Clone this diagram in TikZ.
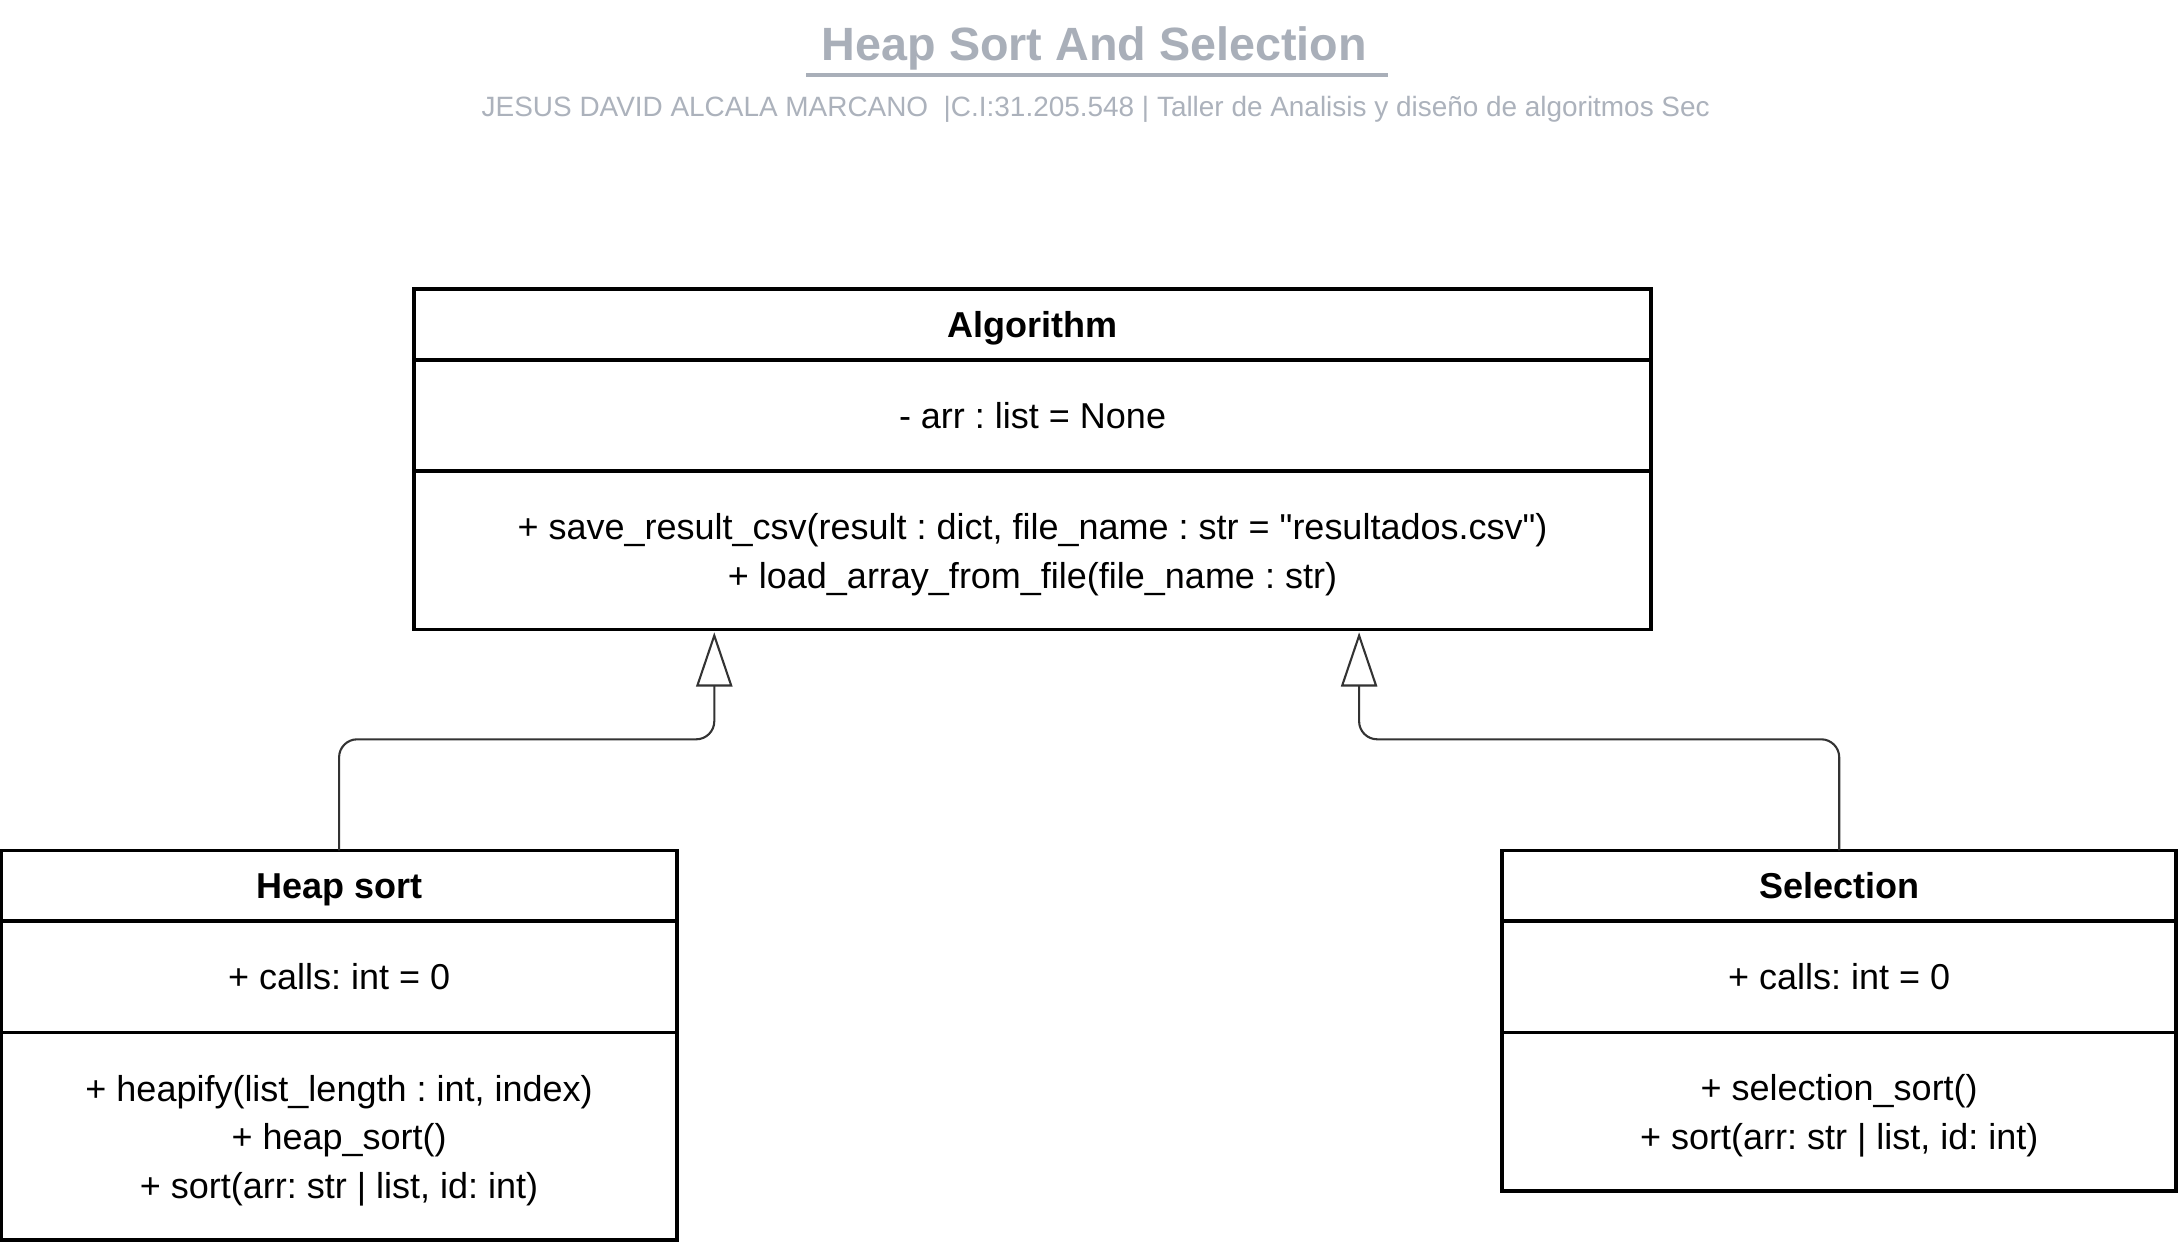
\documentclass[tikz,border=0pt]{standalone}
\usepackage{fontspec}
\setmainfont{Liberation Sans}[Ligatures=TeXOff]
\usetikzlibrary{arrows.meta}
\definecolor{titlegray}{RGB}{169,175,185}
\definecolor{subgray}{RGB}{172,178,188}
\definecolor{conngray}{RGB}{51,51,51}
\frenchspacing
\tikzset{
  part/.style={draw=black, line width=2.8pt, inner sep=0pt, outer sep=0pt, align=center,
    font=\fontsize{25.9}{35}\selectfont\frenchspacing, text height=24pt, text depth=5.4pt},
  hdr/.style={part, font=\fontsize{25.9}{35}\selectfont\bfseries},
  box/.style={draw=black, line width=2.8pt, inner sep=0pt, outer sep=0pt},
  mtext/.style={align=center, inner sep=0pt, font=\fontsize{25.9}{35}\selectfont\frenchspacing},
  conn/.style={draw=conngray, line width=1.5pt, rounded corners=13pt,
    -{Triangle[open, length=39pt, width=26pt]}},
}
\begin{document}
\begin{tikzpicture}[x=1pt, y=-1pt]
\fill[white] (0,0) rectangle (1568,894);
\useasboundingbox (0,0) rectangle (1568,894);

% title
\node[text=titlegray, font=\fontsize{33.6}{40}\selectfont\bfseries] (title) at (787.5,35) {Heap Sort And Selection};
\draw[titlegray, line width=2.5pt] (580,54) -- (999,54);
\node[text=subgray, font=\fontsize{20.1}{24}\selectfont\frenchspacing] (sub) at (788.5,79)
  {JESUS DAVID ALCALA MARCANO~~|C.I:31.205.548 | Taller de Analisis y diseño de algoritmos Sec};

% Algorithm
\node[hdr, minimum width=890pt, minimum height=51pt] (algH) at (743,233.5) {Algorithm};
\node[part, minimum width=890pt, minimum height=80pt] (algA) at (743,299) {- arr : list = None};
\node[box, minimum width=890pt, minimum height=114pt] (algM) at (743,396) {};
\node[mtext, yshift=-3pt] (algMt) at (algM.center)
  {+ save\_result\_csv(result : dict, file\_name : str = "resultados.csv")\\+ load\_array\_from\_file(file\_name : str)};

% Heap sort
\node[hdr, minimum width=486pt, minimum height=51pt] (hsH) at (244,637.5) {Heap sort};
\node[part, minimum width=486pt, minimum height=80pt] (hsA) at (244,703) {+ calls: int = 0};
\node[box, minimum width=486pt, minimum height=149.5pt] (hsM) at (244,817.75) {};
\node[mtext, yshift=-3pt] (hsMt) at (hsM.center)
  {+ heapify(list\_length : int, index)\\+ heap\_sort()\\+ sort(arr: str | list, id: int)};

% Selection
\node[hdr, minimum width=485pt, minimum height=51pt] (selH) at (1323.5,637.5) {Selection};
\node[part, minimum width=485pt, minimum height=80pt] (selA) at (1323.5,703) {+ calls: int = 0};
\node[box, minimum width=485pt, minimum height=114pt] (selM) at (1323.5,800) {};
\node[mtext, yshift=-3pt] (selMt) at (selM.center)
  {+ selection\_sort()\\+ sort(arr: str | list, id: int)};

% connectors
\coordinate (algL) at (514,455);
\coordinate (algR) at (978,455);
\coordinate (jl) at (514,532);
\coordinate (jr) at (978,532);
\draw[conn] (hsH.north) |- (jl) -- (algL);
\draw[conn] (selH.north) |- (jr) -- (algR);
\end{tikzpicture}
\end{document}
